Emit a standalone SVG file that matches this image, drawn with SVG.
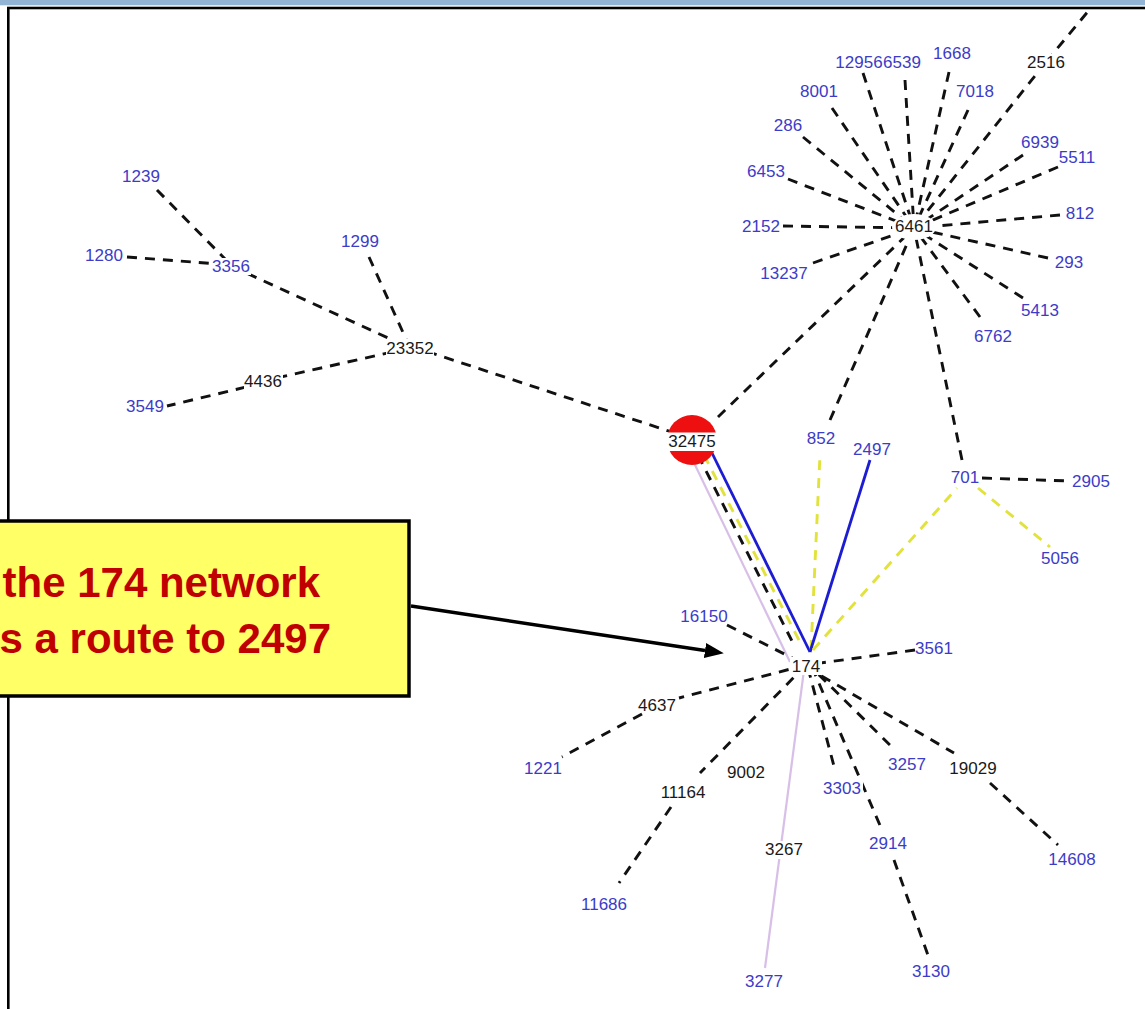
<svg xmlns="http://www.w3.org/2000/svg" width="1145" height="1009" viewBox="0 0 1145 1009">
  <defs>
    <style>
      .d { stroke: #111; stroke-width: 2.9; stroke-dasharray: 10 8; fill: none; }
      .y { stroke: #e2e23c; stroke-width: 2.9; stroke-dasharray: 10 8; fill: none; }
      .b { stroke: #1c1cd2; stroke-width: 2.8; fill: none; }
      .l { stroke: #d8bfe8; stroke-width: 2.2; fill: none; }
      .bg { fill: #fff; }
      .t { font-family: "Liberation Sans", Arial, sans-serif; font-size: 17px; fill: #3c3cc8; text-anchor: middle; }
      .k { fill: #1a1a1a; }
      .note { font-family: "Liberation Sans", Arial, sans-serif; font-size: 42px; font-weight: bold; fill: #c00000; text-anchor: end; }
    </style>
    <marker id="head" markerUnits="userSpaceOnUse" markerWidth="19" markerHeight="15" refX="0" refY="7.5" orient="auto" viewBox="0 0 19 15">
      <path d="M0,0 L19,7.5 L0,15 z" fill="#000"/>
    </marker>
  </defs>

  <!-- page chrome -->
  <rect x="0" y="0" width="1145" height="1009" fill="#fff"/>
  <rect x="0" y="0" width="1145" height="5.3" fill="#93b5d5"/>
  <rect x="8.3" y="8" width="1200" height="1100" fill="none" stroke="#000" stroke-width="2.6"/>

  <g id="edges">
    <!-- 6461 star -->
    <line class="d" x1="863" y1="73" x2="914" y2="228"/>
    <line class="d" x1="905" y1="80" x2="914" y2="228"/>
    <line class="d" x1="949" y1="72" x2="914" y2="228"/>
    <line class="d" x1="968" y1="110" x2="914" y2="228"/>
    <line class="d" x1="1046" y1="62" x2="914" y2="228"/>
    <line class="d" x1="1046" y1="62" x2="1090" y2="9"/>
    <line class="d" x1="832" y1="108" x2="914" y2="228"/>
    <line class="d" x1="803" y1="137" x2="914" y2="228"/>
    <line class="d" x1="1023" y1="155" x2="914" y2="228"/>
    <line class="d" x1="1058" y1="167" x2="914" y2="228"/>
    <line class="d" x1="788" y1="179" x2="914" y2="228"/>
    <line class="d" x1="783" y1="226" x2="914" y2="228"/>
    <line class="d" x1="1060" y1="215" x2="914" y2="228"/>
    <line class="d" x1="1048" y1="258" x2="914" y2="228"/>
    <line class="d" x1="813" y1="263" x2="914" y2="228"/>
    <line class="d" x1="1023" y1="298" x2="914" y2="228"/>
    <line class="d" x1="980" y1="317" x2="914" y2="228"/>
    <line class="d" x1="718" y1="417" x2="914" y2="228"/>
    <line class="d" x1="830" y1="420" x2="914" y2="228"/>
    <line class="d" x1="962" y1="460" x2="914" y2="228"/>

    <!-- 23352 branch -->
    <line class="d" x1="157" y1="190" x2="231" y2="265"/>
    <line class="d" x1="127" y1="257" x2="231" y2="265"/>
    <line class="d" x1="231" y1="266" x2="410" y2="348"/>
    <line class="d" x1="369" y1="257" x2="410" y2="348"/>
    <line class="d" x1="410" y1="348" x2="263" y2="381"/>
    <line class="d" x1="263" y1="383" x2="167" y2="406"/>
    <line class="d" x1="410" y1="346" x2="690" y2="438"/>

    <!-- 32475 to 174 bundle -->
    <line class="l" x1="683" y1="440" x2="790" y2="662"/>
    <line class="d" x1="698" y1="455" x2="795" y2="647"/>
    <line class="y" x1="704" y1="455" x2="802" y2="646"/>
    <line class="b" x1="712" y1="453" x2="810" y2="652"/>

    <!-- 174 upward -->
    <line class="y" x1="811" y1="650" x2="820" y2="455"/>
    <line class="b" x1="810" y1="652" x2="870" y2="460"/>
    <line class="y" x1="813" y1="650" x2="957" y2="488"/>

    <!-- 701 -->
    <line class="d" x1="982" y1="478" x2="1070" y2="481"/>
    <line class="y" x1="978" y1="488" x2="1050" y2="547"/>

    <!-- 174 star -->
    <line class="d" x1="727" y1="625" x2="806" y2="665"/>
    <line class="d" x1="915" y1="650" x2="806" y2="665"/>
    <line class="d" x1="806" y1="665" x2="679" y2="698"/>
    <line class="d" x1="642" y1="714" x2="562" y2="757"/>
    <line class="d" x1="806" y1="665" x2="700" y2="773"/>
    <line class="d" x1="671" y1="807" x2="619" y2="883"/>
    <line class="d" x1="808" y1="668" x2="835" y2="770"/>
    <line class="d" x1="812" y1="667" x2="882" y2="830"/>
    <line class="d" x1="894" y1="860" x2="929" y2="958"/>
    <line class="d" x1="806" y1="662" x2="895" y2="750"/>
    <line class="d" x1="806" y1="667" x2="954" y2="753"/>
    <line class="d" x1="990" y1="783" x2="1058" y2="845"/>
    <line class="l" x1="804" y1="670" x2="765" y2="968"/>
  </g>

  <!-- 6461 hub -->
  <g id="n6461"><ellipse class="bg" cx="914" cy="227" rx="22" ry="13"/><text class="t k" x="914" y="232">6461</text></g>
  <g id="n12956"><text class="t" x="859" y="68">12956</text></g>
  <g id="n6539"><text class="t" x="902" y="68">6539</text></g>
  <g id="n1668"><text class="t" x="952" y="59">1668</text></g>
  <g id="n2516"><rect class="bg" x="1026" y="54" width="40" height="17"/><text class="t k" x="1046" y="68">2516</text></g>
  <g id="n8001"><text class="t" x="819" y="97">8001</text></g>
  <g id="n7018"><text class="t" x="975" y="97">7018</text></g>
  <g id="n286"><text class="t" x="788" y="131">286</text></g>
  <g id="n6939"><text class="t" x="1040" y="148">6939</text></g>
  <g id="n5511"><text class="t" x="1077" y="163">5511</text></g>
  <g id="n6453"><text class="t" x="766" y="177">6453</text></g>
  <g id="n2152"><text class="t" x="761" y="232">2152</text></g>
  <g id="n812"><text class="t" x="1080" y="219">812</text></g>
  <g id="n293"><text class="t" x="1069" y="268">293</text></g>
  <g id="n13237"><text class="t" x="784" y="279">13237</text></g>
  <g id="n5413"><text class="t" x="1040" y="316">5413</text></g>
  <g id="n6762"><text class="t" x="993" y="342">6762</text></g>

  <!-- 23352 branch -->
  <g id="n1239"><text class="t" x="141" y="182">1239</text></g>
  <g id="n1280"><text class="t" x="104" y="261">1280</text></g>
  <g id="n3356"><rect class="bg" x="212" y="258" width="39" height="17"/><text class="t" x="231" y="272">3356</text></g>
  <g id="n1299"><text class="t" x="360" y="247">1299</text></g>
  <g id="n23352"><rect class="bg" x="386" y="339" width="48" height="18"/><text class="t k" x="410" y="354">23352</text></g>
  <g id="n4436"><rect class="bg" x="244" y="373" width="39" height="17"/><text class="t k" x="263" y="387">4436</text></g>
  <g id="n3549"><text class="t" x="145" y="412">3549</text></g>

  <!-- 32475 -->
  <g id="n32475">
    <circle cx="692" cy="440" r="25" fill="#ee1010"/>
    <rect class="bg" x="667" y="432.5" width="50" height="18.5"/>
    <text class="t k" x="692" y="447">32475</text>
  </g>

  <g id="n852"><text class="t" x="821" y="444">852</text></g>
  <g id="n2497"><text class="t" x="872" y="455">2497</text></g>
  <g id="n701"><rect class="bg" x="950" y="469" width="31" height="17"/><text class="t" x="965" y="483">701</text></g>
  <g id="n2905"><text class="t" x="1091" y="487">2905</text></g>
  <g id="n5056"><text class="t" x="1060" y="564">5056</text></g>

  <!-- 174 hub -->
  <g id="n174"><rect class="bg" x="790" y="657" width="32" height="18"/><text class="t k" x="806" y="672">174</text></g>
  <g id="n16150"><text class="t" x="704" y="622">16150</text></g>
  <g id="n3561"><text class="t" x="934" y="654">3561</text></g>
  <g id="n4637"><text class="t k" x="657" y="711">4637</text></g>
  <g id="n1221"><text class="t" x="543" y="774">1221</text></g>
  <g id="n9002"><text class="t k" x="746" y="778">9002</text></g>
  <g id="n11164"><text class="t k" x="683" y="798">11164</text></g>
  <g id="n3303"><rect class="bg" x="822" y="780" width="41" height="17"/><text class="t" x="842" y="794">3303</text></g>
  <g id="n3257"><text class="t" x="907" y="770">3257</text></g>
  <g id="n19029"><text class="t k" x="973" y="774">19029</text></g>
  <g id="n3267"><rect class="bg" x="765" y="841" width="39" height="18"/><text class="t k" x="784" y="855">3267</text></g>
  <g id="n2914"><text class="t" x="888" y="849">2914</text></g>
  <g id="n14608"><text class="t" x="1072" y="865">14608</text></g>
  <g id="n11686"><text class="t" x="604" y="910">11686</text></g>
  <g id="n3277"><text class="t" x="764" y="987">3277</text></g>
  <g id="n3130"><text class="t" x="931" y="977">3130</text></g>

  <!-- callout -->
  <g id="callout">
    <rect x="-10" y="521" width="419" height="175" fill="#ffff66" stroke="#000" stroke-width="3.5"/>
    <text class="note" x="320" y="597">the 174 network</text>
    <text class="note" x="331" y="653">s a route to 2497</text>
    <line x1="411" y1="606" x2="705" y2="650.5" stroke="#000" stroke-width="3.5" marker-end="url(#head)"/>
  </g>
</svg>
